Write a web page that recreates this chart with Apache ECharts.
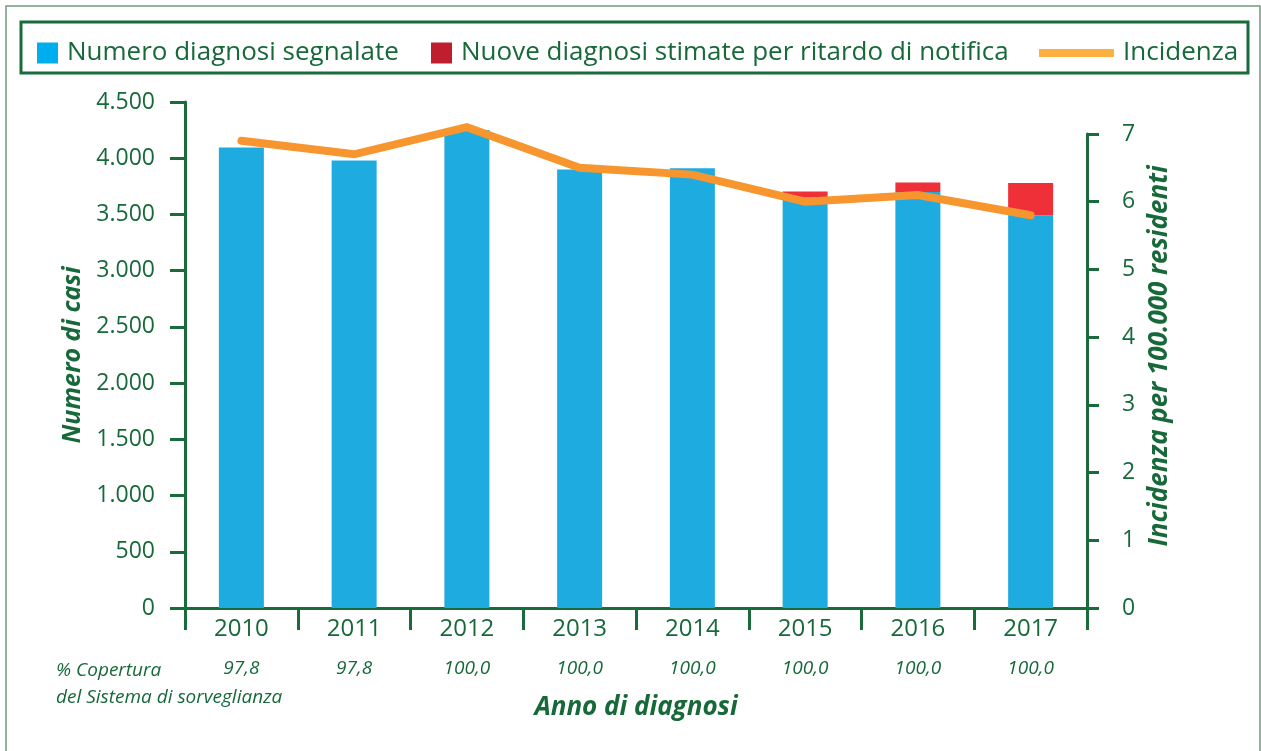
<!DOCTYPE html>
<html>
<head>
<meta charset="utf-8">
<script src="https://cdn.jsdelivr.net/npm/echarts@6/dist/echarts.min.js"></script>
<style>
  html, body { margin: 0; padding: 0; background: #fff; }
  #chart { width: 1261px; height: 751px; }
</style>
</head>
<body>
<div id="chart"></div>
<script>
// data
const anni = ['2010', '2011', '2012', '2013', '2014', '2015', '2016', '2017'];
const diagnosiSegnalate = [4095, 3980, 4250, 3900, 3910, 3650, 3700, 3490];
const diagnosiStimate = [0, 0, 0, 0, 0, 55, 85, 290];
const incidenza = [6.9, 6.7, 7.1, 6.5, 6.4, 6.0, 6.1, 5.8];
const copertura = ['97,8', '97,8', '100,0', '100,0', '100,0', '100,0', '100,0', '100,0'];
const ticksCasi = [0, 500, 1000, 1500, 2000, 2500, 3000, 3500, 4000, 4500];

const green = '#17693a';
const axisGreen = '#1a6b3c';
const font = '"Open Sans", sans-serif';

function fmtMigliaia(v) {
    // 4500 -> 4.500
    return String(v).replace(/\B(?=(\d{3})+(?!\d))/g, '.');
}

// one legend per item so each sits where it is in the original
function legendItem(left, name, color, w, h) {
    return {
        left: left, top: 35,
        icon: 'rect',
        itemWidth: w, itemHeight: h,
        textStyle: { fontSize: 26, color: green, fontFamily: font, padding: [0, 0, 0, 4] },
        data: [{ name: name, itemStyle: { color: color } }]
    };
}

var chart = echarts.init(document.getElementById('chart'));

var option = {
    animation: false,
    textStyle: { fontFamily: font, color: green },
    legend: [
        legendItem(32, 'Numero diagnosi segnalate', '#00aeef', 21, 21),
        legendItem(426, 'Nuove diagnosi stimate per ritardo di notifica', '#be1e2d', 21, 21),
        legendItem(1034, 'Incidenza', '#fbb040', 75, 8)
    ],
    graphic: [
        {
            type: 'rect', silent: true,
            shape: { x: 6, y: 6, width: 1254, height: 780 },
            style: { fill: null, stroke: '#6f9a7d', lineWidth: 1.5 }
        },
        {
            type: 'rect', silent: true,
            shape: { x: 21, y: 22, width: 1227, height: 51 },
            style: { fill: null, stroke: axisGreen, lineWidth: 3 }
        },
        {
            type: 'text', left: 56, top: 657,
            style: {
                text: '% Copertura\ndel Sistema di sorveglianza',
                fontFamily: font, fontStyle: 'italic', fontSize: 19,
                lineHeight: 27, fill: green
            }
        }
    ],
    grid: [
        { left: 185, right: 174, top: 102, bottom: 143 },
        { left: 185, right: 174, top: 134, bottom: 143 }
    ],
    xAxis: [
        {
            type: 'category', gridIndex: 0,
            data: anni,
            axisLine: { lineStyle: { color: axisGreen, width: 3 } },
            axisTick: { show: true, length: 22, lineStyle: { color: axisGreen, width: 3 } },
            axisLabel: { fontSize: 24, color: green, margin: 9, fontFamily: font },
            name: 'Anno di diagnosi',
            nameLocation: 'middle',
            nameGap: 87,
            nameTextStyle: { fontSize: 26, fontWeight: 'bold', fontStyle: 'italic', color: green, fontFamily: font }
        },
        {
            type: 'category', gridIndex: 1,
            data: anni,
            axisLine: { show: false },
            axisTick: { show: false },
            axisLabel: {
                margin: 51, fontSize: 19, fontStyle: 'italic', color: green,
                formatter: function (v, i) { return copertura[i]; }
            }
        }
    ],
    yAxis: [
        {
            type: 'value', gridIndex: 0,
            min: 0, max: 4500, interval: 500,
            splitLine: { show: false },
            axisLine: { show: true, lineStyle: { color: axisGreen, width: 3 } },
            axisTick: { show: true, length: 15, lineStyle: { color: axisGreen, width: 3 } },
            axisLabel: {
                fontSize: 23, color: green, margin: 30,
                formatter: function (v) { return ticksCasi.indexOf(v) >= 0 ? fmtMigliaia(v) : ''; }
            },
            name: 'Numero di casi',
            nameLocation: 'middle',
            nameGap: 100,
            nameRotate: 90,
            nameTextStyle: { fontSize: 25, fontWeight: 'bold', fontStyle: 'italic', color: green, fontFamily: font }
        },
        {
            type: 'value', gridIndex: 1, position: 'right',
            min: 0, max: 7, interval: 1,
            splitLine: { show: false },
            axisLine: { show: true, lineStyle: { color: axisGreen, width: 3 } },
            axisTick: { show: true, length: 12, lineStyle: { color: axisGreen, width: 3 } },
            axisLabel: { fontSize: 23, color: green, margin: 35 },
            name: 'Incidenza per 100.000 residenti',
            nameLocation: 'middle',
            nameGap: 60,
            nameRotate: 90,
            nameTextStyle: {
                fontSize: 26, fontWeight: 'bold', fontStyle: 'italic', color: green, fontFamily: font,
                padding: [0, 0, 0, 30]
            }
        }
    ],
    series: [
        {
            name: 'Numero diagnosi segnalate',
            type: 'bar', stack: 'casi',
            xAxisIndex: 0, yAxisIndex: 0,
            barWidth: 45,
            itemStyle: { color: '#1eabe0' },
            data: diagnosiSegnalate
        },
        {
            name: 'Nuove diagnosi stimate per ritardo di notifica',
            type: 'bar', stack: 'casi',
            xAxisIndex: 0, yAxisIndex: 0,
            barWidth: 45,
            itemStyle: { color: '#ef3038' },
            data: diagnosiStimate
        },
        {
            name: 'Incidenza',
            type: 'line',
            xAxisIndex: 1, yAxisIndex: 1,
            symbol: 'none',
            clip: false,
            lineStyle: { color: '#f7962f', width: 8, cap: 'round', join: 'miter' },
            data: incidenza
        }
    ]
};

chart.setOption(option);
</script>
</body>
</html>
